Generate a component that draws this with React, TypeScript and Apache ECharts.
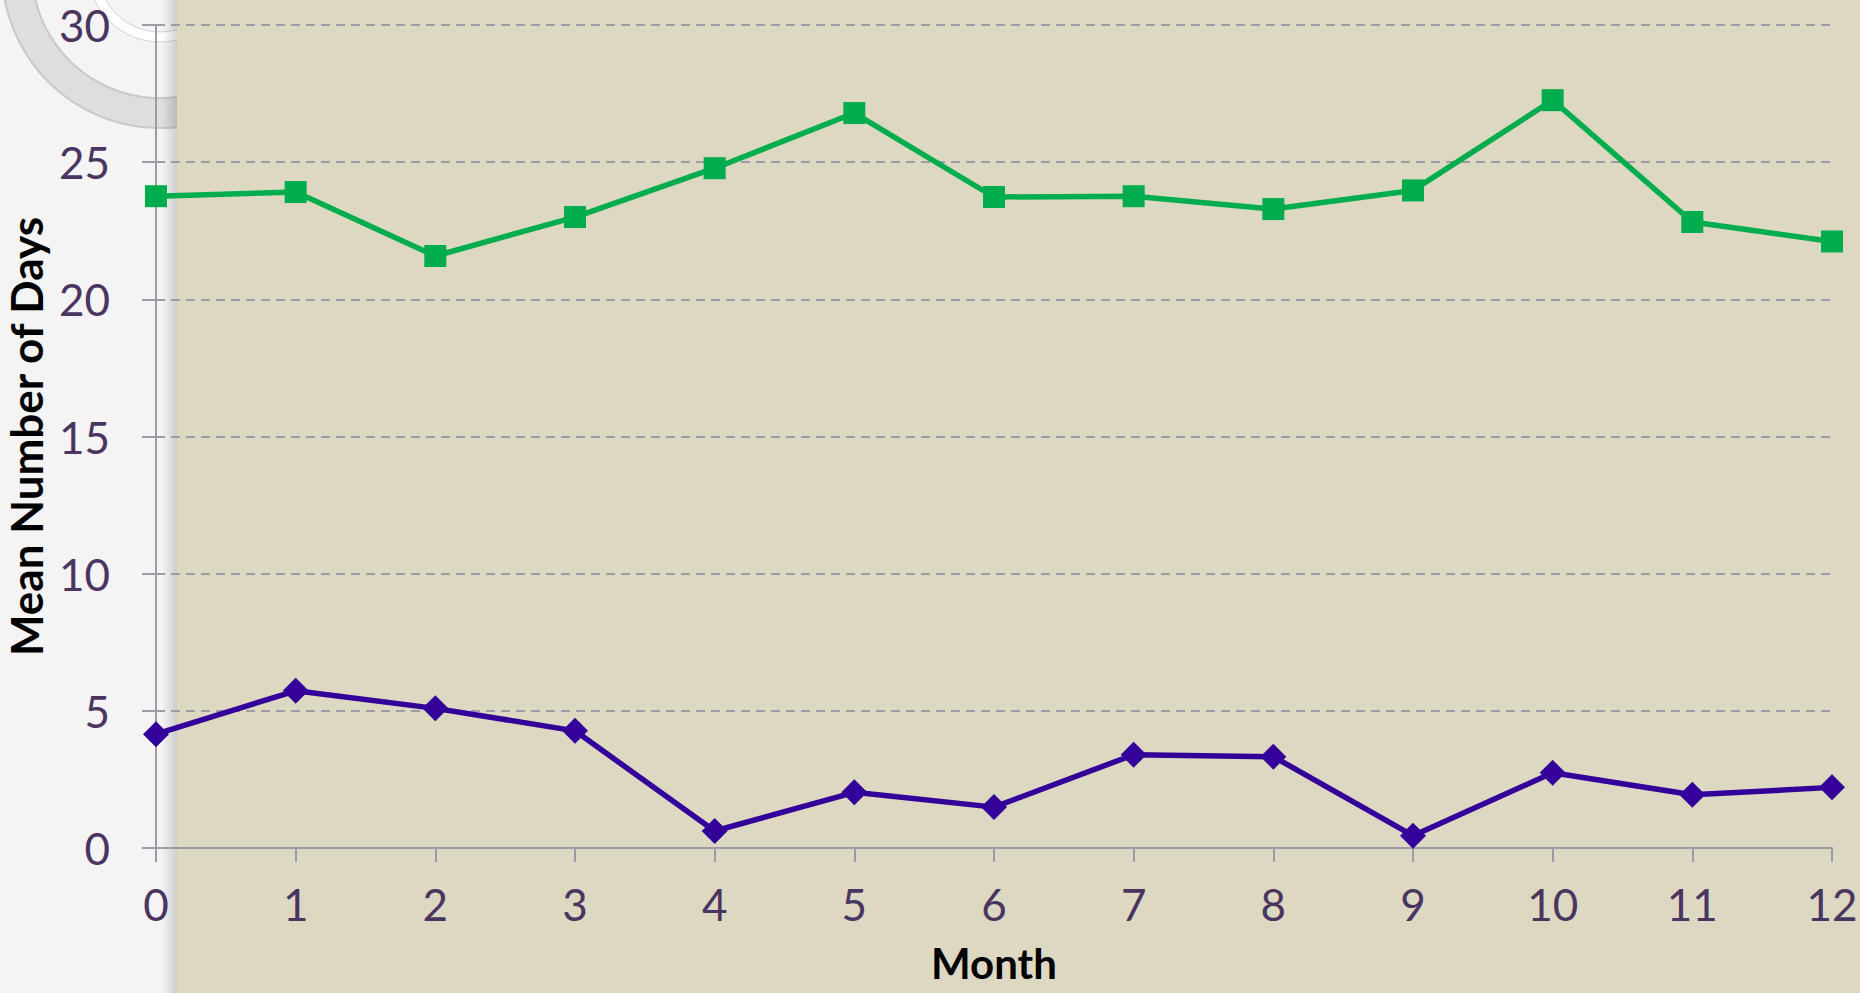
import React, { useEffect, useRef } from "react";
import * as echarts from "echarts";

const months = ["0", "1", "2", "3", "4", "5", "6", "7", "8", "9", "10", "11", "12"];
const upperSeries = [23.76, 23.91, 21.58, 23.0, 24.78, 26.79, 23.73, 23.76, 23.29, 23.97, 27.26, 22.82, 22.11];
const lowerSeries = [4.15, 5.73, 5.09, 4.27, 0.62, 2.03, 1.49, 3.4, 3.33, 0.45, 2.74, 1.94, 2.21];
const yMin = 0;
const yMax = 30;
const yStep = 5;

const W = 1860;
const H = 993;

export default function App() {
  const ref = useRef<HTMLDivElement>(null);
  useEffect(() => {
    if (!ref.current) return;
    const chart = echarts.init(ref.current, null, { renderer: "svg" });
    const axisGray = "#9F9AA6";
    const labelColor = "#4A3560";
    chart.setOption({
      animation: false,
      backgroundColor: "#F4F4F4",
      graphic: [
        {
          type: "ring",
          z: -100,
          silent: true,
          shape: { cx: 160, cy: -30, r: 158, r0: 128 },
          style: { fill: "#DEDEDE", stroke: "#C8C8C8", lineWidth: 2 },
        },
        {
          type: "ring",
          z: -100,
          silent: true,
          shape: { cx: 160, cy: -30, r: 72, r0: 62 },
          style: { fill: "#FFFFFF", stroke: "#D2D2D2", lineWidth: 1 },
        },
        {
          type: "rect",
          z: -99,
          silent: true,
          shape: { x: 162, y: 0, width: 15, height: H },
          style: {
            fill: new echarts.graphic.LinearGradient(0, 0, 1, 0, [
              { offset: 0, color: "rgba(0,0,0,0)" },
              { offset: 1, color: "rgba(0,0,0,0.16)" },
            ]),
          },
        },
        {
          type: "rect",
          z: -98,
          silent: true,
          shape: { x: 177, y: 0, width: W - 177, height: H },
          style: { fill: "#DDD8C2" },
        },
      ],
      grid: { left: 156, right: 28, top: 25, bottom: 145, containLabel: false, outerBoundsMode: "none" },
      xAxis: {
        type: "category",
        data: months,
        boundaryGap: false,
        name: "Month",
        nameLocation: "middle",
        nameGap: 94,
        nameTextStyle: { fontFamily: "Lato", fontWeight: "bold", fontSize: 42, color: "#000" },
        axisLine: { show: true, lineStyle: { color: axisGray, width: 2 } },
        axisTick: { show: true, length: 14, alignWithLabel: true, lineStyle: { color: axisGray, width: 2 } },
        axisLabel: { margin: 34, fontFamily: "Lato", fontSize: 44, color: labelColor },
        splitLine: { show: false },
      },
      yAxis: {
        type: "value",
        min: yMin,
        max: yMax,
        interval: yStep,
        name: "Mean Number of Days",
        nameLocation: "middle",
        nameGap: 107,
        nameTextStyle: { fontFamily: "Lato", fontWeight: "bold", fontSize: 44, color: "#000" },
        axisLine: { show: true, lineStyle: { color: axisGray, width: 2 } },
        axisTick: { show: true, length: 14, lineStyle: { color: axisGray, width: 2 } },
        axisLabel: { margin: 46, fontFamily: "Lato", fontSize: 44, color: labelColor },
        splitLine: { show: true, lineStyle: { color: axisGray, width: 2, type: [9, 6] } },
      },
      series: [
        {
          name: "Upper",
          type: "line",
          data: upperSeries,
          symbol: "rect",
          symbolSize: 22,
          itemStyle: { color: "#00AD4E" },
          lineStyle: { color: "#00AD4E", width: 5.5 },
        },
        {
          name: "Lower",
          type: "line",
          data: lowerSeries,
          symbol: "diamond",
          symbolSize: 26,
          itemStyle: { color: "#330099" },
          lineStyle: { color: "#330099", width: 5.5 },
        },
      ],
    });
    return () => chart.dispose();
  }, []);
  return (
    <div
      ref={ref}
      style={{ position: "absolute", left: 0, top: 0, width: W, height: H }}
    />
  );
}
